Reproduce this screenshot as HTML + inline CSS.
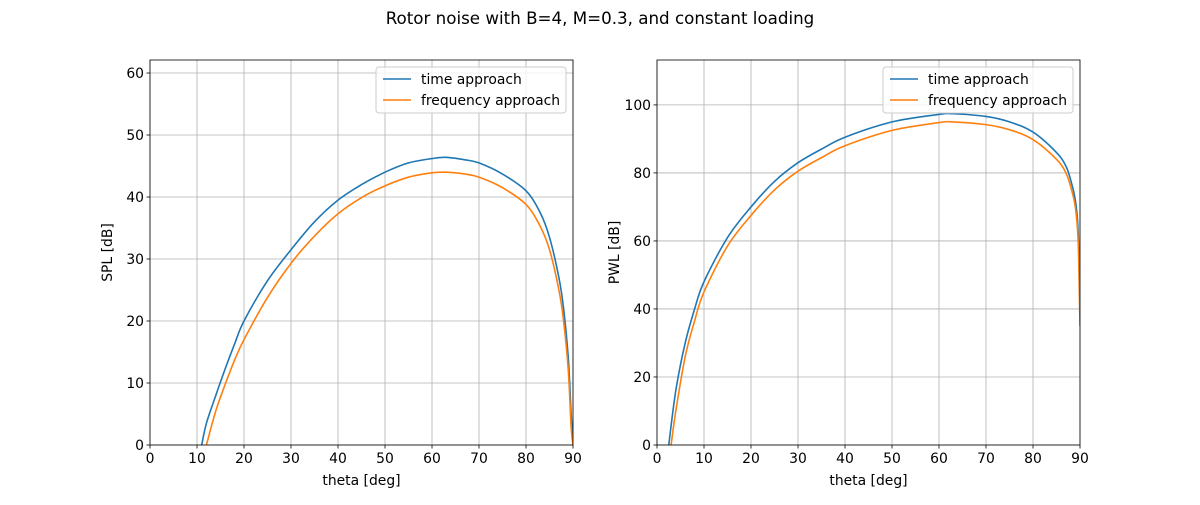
<!DOCTYPE html>
<html><head><meta charset="utf-8"><style>
body{margin:0;background:#fff}
svg text{font-family:"DejaVu Sans","Liberation Sans",sans-serif;fill:#000}
</style></head><body>
<svg id="c" width="1200" height="500" xmlns="http://www.w3.org/2000/svg">
<text x="600" y="24" text-anchor="middle" font-size="16.7">Rotor noise with B=4, M=0.3, and constant loading</text>
</svg>
<script>
const xTicks=[0,10,20,30,40,50,60,70,80,90];
const splTicks=[0,10,20,30,40,50,60];
const pwlTicks=[0,20,40,60,80,100];
const splThetaTime=[11,12,14,16,18,20,25,30,35,40,45,50,55,60,63,67,70,75,80,83,85,87,88,89,89.6,90];
const splTime=[0,3.5,8,12.3,16.3,20,26.5,31.5,36,39.5,42,44,45.5,46.2,46.4,46,45.5,43.7,41,37.5,33.5,27,22,14,5,0];
const splThetaFreq=[12,14,16,18,20,25,30,35,40,45,50,55,60,63,67,70,75,80,83,85,87,88,89,89.6,90];
const splFreq=[0,5.5,9.8,13.7,17,23.8,29.3,33.7,37.3,39.9,41.8,43.2,43.9,44,43.7,43.2,41.5,38.8,35.3,31.5,25,20,12,3,0];
const pwlThetaTime=[2.5,4,6,8,10,15,20,25,30,35,40,50,60,63,70,75,80,85,87,88,89,89.6,90];
const pwlTime=[0,16,30,40,48,61,70,77.5,83,87,90.5,95,97.2,97.4,96.6,95,92,86,82,78,72,63,40];
const pwlThetaFreq=[3,4,6,8,10,15,20,25,30,35,40,50,60,63,70,75,80,85,87,88,89,89.6,90];
const pwlFreq=[0,10,26,36.5,45,58.5,67.5,75,80.5,84.5,88,92.5,94.8,95,94.2,92.7,89.8,84,80,76,70,60,35];

const svg=document.getElementById('c');const NS='http://www.w3.org/2000/svg';
function mk(t,a,p){const e=document.createElementNS(NS,t);for(const k in a)e.setAttribute(k,a[k]);(p||svg).appendChild(e);return e;}
function smooth(P){
  let d='M'+P[0][0].toFixed(2)+','+P[0][1].toFixed(2);
  for(let i=0;i<P.length-1;i++){
    const p0=P[i-1]||P[i],p1=P[i],p2=P[i+1],p3=P[i+2]||P[i+1];
    const c1=[p1[0]+(p2[0]-p0[0])/6,p1[1]+(p2[1]-p0[1])/6];
    const c2=[p2[0]-(p3[0]-p1[0])/6,p2[1]-(p3[1]-p1[1])/6];
    d+='C'+c1.map(v=>v.toFixed(2)).join(',')+' '+c2.map(v=>v.toFixed(2)).join(',')+' '+p2[0].toFixed(2)+','+p2[1].toFixed(2);
  }
  return d;
}
function panel(px,ymax,yTicks,ylabel,series,pname){
  const L=px,R=px+423,T=60,B=445;
  const g=mk('g',{});
  
  
  const sx=v=>L+(v/90)*(R-L), sy=v=>B-(v/ymax)*(B-T);
  xTicks.forEach(t=>{const x=sx(t);
    const gl=mk('line',{x1:x,x2:x,y1:T,y2:B,stroke:'#b0b0b0','stroke-width':0.8},g);
    
    mk('line',{x1:x,x2:x,y1:B,y2:B+3.5,stroke:'#000','stroke-width':0.8},g);
    const tx=mk('text',{x:x,y:B+18,'text-anchor':'middle','font-size':13.9},g);tx.textContent=t;
    });
  yTicks.forEach(t=>{const y=sy(t);
    const gl=mk('line',{x1:L,x2:R,y1:y,y2:y,stroke:'#b0b0b0','stroke-width':0.8},g);
    
    mk('line',{x1:L-3.5,x2:L,y1:y,y2:y,stroke:'#000','stroke-width':0.8},g);
    const tx=mk('text',{x:L-6,y:y+5,'text-anchor':'end','font-size':13.9},g);tx.textContent=t;
    });
  const cp=mk('clipPath',{id:'cp'+px},g);mk('rect',{x:L,y:T,width:R-L,height:B-T},cp);
  series.forEach(s=>{
    const P=s.x.map((v,i)=>[sx(v),sy(s.y[i])]);
    const p=mk('path',{d:smooth(P),fill:'none',stroke:s.c,'stroke-width':1.6,'clip-path':'url(#cp'+px+')'},g);
    });
  const fr=mk('rect',{x:L,y:T,width:R-L,height:B-T,fill:'none',stroke:'#000','stroke-width':0.8},g);
  
  const xl=mk('text',{x:(L+R)/2,y:B+40,'text-anchor':'middle','font-size':13.9},g);xl.textContent='theta [deg]';
  
  const yl=mk('text',{x:0,y:0,'text-anchor':'middle','font-size':13.9,transform:`translate(${L-38},${(T+B)/2}) rotate(-90)`},g);yl.textContent=ylabel;
  
  const lg=mk('g',{},g);
  
  mk('rect',{x:R-197,y:67,width:190,height:46,rx:3,fill:'#fff','fill-opacity':0.8,stroke:'#ccc'},lg);
  series.forEach((s,i)=>{const y=79+i*21;
    mk('line',{x1:R-190,x2:R-162,y1:y,y2:y,stroke:s.c,'stroke-width':1.6},lg);
    const t=mk('text',{x:R-152,y:y+5,'font-size':13.9},lg);t.textContent=s.label;
    });
}
panel(150,62.1,splTicks,'SPL [dB]',[
 {x:splThetaTime,y:splTime,c:'#1f77b4',n:'spl-time-line',label:'time approach'},
 {x:splThetaFreq,y:splFreq,c:'#ff7f0e',n:'spl-frequency-line',label:'frequency approach'}],'spl-panel');
panel(657,113.2,pwlTicks,'PWL [dB]',[
 {x:pwlThetaTime,y:pwlTime,c:'#1f77b4',n:'pwl-time-line',label:'time approach'},
 {x:pwlThetaFreq,y:pwlFreq,c:'#ff7f0e',n:'pwl-frequency-line',label:'frequency approach'}],'pwl-panel');
</script>
</body></html>
